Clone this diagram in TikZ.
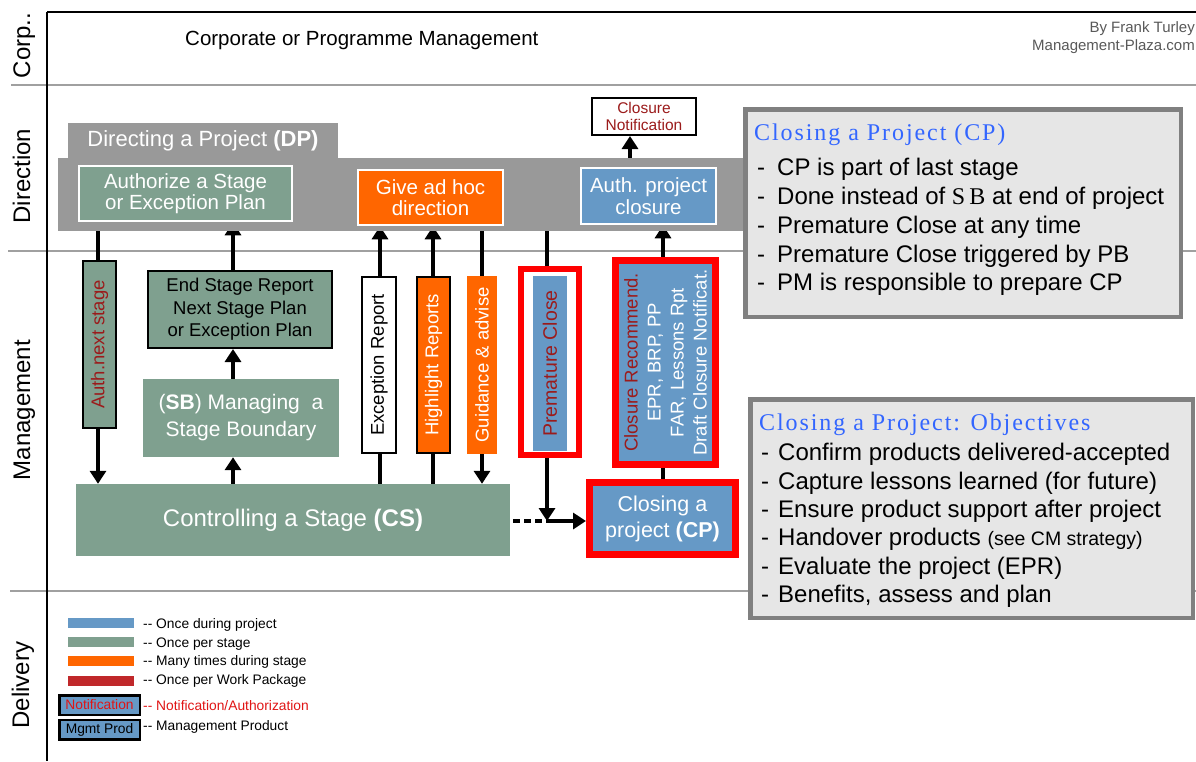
\documentclass[tikz,border=0pt]{standalone}
\usepackage{fontspec}
\setmainfont{Liberation Sans}
\newfontfamily\spserif[LetterSpace=8]{Liberation Serif}
\usetikzlibrary{arrows.meta}
\definecolor{cgreen}{HTML}{7FA08F}
\definecolor{corange}{HTML}{FF6600}
\definecolor{cblue}{HTML}{6699C6}
\definecolor{cband}{HTML}{999999}
\definecolor{dred}{HTML}{9B1B1B}
\definecolor{lred}{HTML}{C0282A}
\definecolor{ntred}{HTML}{E01515}
\definecolor{ttlblue}{HTML}{3366FF}
\definecolor{infofill}{HTML}{E6E6E6}
\definecolor{infoedge}{HTML}{808080}
\definecolor{laneline}{HTML}{A0A0A0}
\definecolor{credit}{HTML}{595959}
\newcommand\myfs[2]{\fontsize{#1}{#2}\selectfont}
\pgfdeclarelayer{back}
\pgfdeclarelayer{mid}
\pgfsetlayers{back,mid,main}
\begin{document}
\begin{tikzpicture}[x=1pt,y=-1pt,
  bx/.style={rectangle, inner sep=0pt, align=center, text=white},
  wborder/.style={draw=white, line width=2.5pt},
  bborder/.style={draw=black, line width=2pt},
  conn/.style={line width=4pt, line cap=butt},
  arr/.style={conn, -{Triangle[length=13pt,width=16pt]}},
  lanelbl/.style={rotate=90, anchor=base, inner sep=0pt, font=\myfs{24}{28}},
  infobox/.style={rectangle, fill=infofill, draw=infoedge, line width=4.5pt, inner sep=0pt},
  infoline/.style={anchor=base west, inner sep=0pt, font=\myfs{24}{28}},
  legtxt/.style={anchor=base west, inner sep=0pt, font=\myfs{13.8}{16}},
  legbar/.style={bx, minimum width=66pt, minimum height=10pt},
  rottxt/.style={rotate=90, font=\myfs{18.5}{22}},
  boxtxt/.style={font=\myfs{20.5}{21.5}}]
\useasboundingbox (0,0) rectangle (1196,761);

% ---------- lanes ----------
\begin{pgfonlayer}{back}
\fill[white] (0,0) rectangle (1196,761);
\draw[laneline, line width=2pt] (11,85) -- (1196,85);
\draw[laneline, line width=2pt] (8,251) -- (1196,251);
\draw[laneline, line width=2pt] (10,591) -- (1196,591);
\draw[line width=2.5pt] (47,12) -- (47,761);
\draw[line width=2.5pt] (47,12) -- (1196,12);
\end{pgfonlayer}

\node[lanelbl] (lcorp) at (30,45.5) {Corp..};
\node[lanelbl] (ldir) at (30,176) {Direction};
\node[lanelbl] (lmgmt) at (30,410) {Management};
\node[lanelbl] (ldel) at (29,685) {Delivery};

\node[anchor=base west, inner sep=0pt, font=\myfs{20.5}{24}] (corp) at (185,45.3) {Corporate or Programme Management};
\node[anchor=east, inner sep=0pt, align=right, text=credit, font=\myfs{15}{18}] (cred) at (1195,38) {By Frank Turley\\Management-Plaza.com};

% ---------- Direction ----------
\node[bx, fill=cband, minimum width=690pt, minimum height=73pt] (dpband) at (403,194.5) {};
\node[bx, fill=cband, minimum width=270pt, minimum height=36pt, font=\myfs{22}{24}] (dptab) at (203,140.5) {Directing a Project \textbf{(DP)}};
\node[bx, fill=cgreen, wborder, minimum width=213pt, minimum height=55pt, boxtxt] (auth) at (185.5,193.5) {Authorize a Stage\\or Exception Plan};
\node[bx, fill=corange, wborder, minimum width=145pt, minimum height=55pt, boxtxt] (adhoc) at (430.5,197.5) {Give ad hoc\\direction};
\node[bx, fill=cblue, wborder, minimum width=135pt, minimum height=56pt, boxtxt] (apc) at (648.5,196) {Auth. project\\closure};
\node[bx, fill=white, bborder, text=dred, minimum width=104pt, minimum height=37pt, font=\myfs{15.5}{17}] (cn) at (644,116.5) {Closure\\Notification};

% ---------- Management ----------
\node[bx, fill=cgreen, bborder, text=dred, rottxt, minimum width=167pt, minimum height=33pt] (ans) at (99.5,344.5) {Auth.next stage};
\node[bx, fill=cgreen, bborder, text=black, minimum width=184pt, minimum height=77pt, font=\myfs{18.5}{22.5}] (esr) at (240,309.5) {End Stage Report\\Next Stage Plan\\or Exception Plan};
\node[bx, fill=cgreen, minimum width=196pt, minimum height=78pt, font=\myfs{21}{27}] (sb) at (241,418) {(\textbf{SB}) Managing\ \ a\\Stage Boundary};
\node[bx, fill=cgreen, minimum width=434pt, minimum height=72pt, font=\myfs{24}{28}] (cs) at (293,520) {Controlling a Stage \textbf{(CS)}};
\node[bx, fill=white, bborder, text=black, rottxt, minimum width=176pt, minimum height=34pt] (exc) at (379,365) {Exception Report};
\node[bx, fill=corange, bborder, rottxt, minimum width=176pt, minimum height=33pt] (hlr) at (433.5,365) {Highlight Reports};
\node[bx, fill=corange, rottxt, minimum width=178pt, minimum height=30pt] (gda) at (482,365) {Guidance \& advise};
\node[bx, fill=white, draw=red, line width=6pt, minimum width=58pt, minimum height=186pt] (pcf) at (550,362) {};
\node[bx, fill=cblue, text=dred, rotate=90, font=\myfs{19.5}{22}, minimum width=175pt, minimum height=34pt] (pc) at (550,363.5) {Premature Close};
\node[bx, fill=cblue, draw=red, line width=7pt, rotate=90, minimum width=204pt, minimum height=100pt, font=\myfs{18.5}{23}] (crec) at (665.5,362.5) {\textcolor{dred}{Closure Recommend.}\\EPR, BRP, PP\\FAR, Lessons Rpt\\Draft Closure Notificat.};
\node[bx, fill=cblue, draw=red, line width=7pt, minimum width=146pt, minimum height=72pt, font=\myfs{21.5}{26}] (cp) at (662.5,518.5) {Closing a\\project \textbf{(CP)}};

% ---------- connectors ----------
\coordinate (xa) at (98,0);
\coordinate (xb) at (233,0);
\coordinate (xc) at (380,0);
\coordinate (xd) at (433,0);
\coordinate (xe) at (482,0);
\coordinate (xf) at (547,0);
\coordinate (xg) at (663,0);
\coordinate (xh) at (630,0);
\coordinate (pcj) at (547,521);
\begin{pgfonlayer}{mid}
\draw[arr] (auth.south -| xa) -- (cs.north -| xa);
\draw[arr] (cs.north -| xb) -- (sb.south -| xb);
\draw[arr] (sb.north -| xb) -- (esr.south -| xb);
\draw[arr] (esr.north -| xb) -- (auth.south -| xb);
\draw[arr] (cs.north -| xc) -- (adhoc.south -| xc);
\draw[arr] (cs.north -| xd) -- (adhoc.south -| xd);
\draw[arr] (adhoc.south -| xe) -- (cs.north -| xe);
\draw[arr] (dpband.south -| xf) -- (pcj);
\draw[conn, dash pattern=on 7pt off 4pt] ([xshift=3pt]cs.east |- pcj) -- (pcj);
\draw[arr] (pcj) -- (cp.west |- pcj);
\draw[arr] (cp.north -| xg) -- (apc.south -| xg);
\draw[arr] (apc.north -| xh) -- (cn.south -| xh);
\end{pgfonlayer}

% ---------- info boxes ----------
\node[infobox, minimum width=435.5pt, minimum height=207.5pt] (info1) at (963,213) {};
\node[anchor=base west, inner sep=0pt, text=ttlblue, font=\spserif\myfs{24}{28}] (t1) at (754,140.4) {Closing a Project (CP)};
\foreach \t [count=\i] in {CP is part of last stage, {Done instead of {\spserif S\,B} at end of project}, Premature Close at any time, Premature Close triggered by PB, PM is responsible to prepare CP}
  \node[infoline] (a\i) at (757,{146.8+28.8*\i}) {\makebox[20pt][l]{-}\t};

\node[infobox, minimum width=442.5pt, minimum height=218.5pt] (info2) at (971.5,508.5) {};
\node[anchor=base west, inner sep=0pt, text=ttlblue, font=\spserif\myfs{24}{28}] (t2) at (759,430) {Closing a Project: Objectives};
\foreach \t [count=\i] in {Confirm products delivered-accepted, Capture lessons learned (for future), Ensure product support after project, {Handover products {\myfs{19.5}{28}(see CM strategy)}}, Evaluate the project (EPR), {Benefits, assess and plan}}
  \node[infoline] (b\i) at (761,{432.2+28.4*\i}) {\makebox[17pt][l]{-}\t};

% ---------- legend ----------
\node[legbar, fill=cblue] (lg1) at (101,623) {};
\node[legbar, fill=cgreen] (lg2) at (101,642) {};
\node[legbar, fill=corange] (lg3) at (101,661) {};
\node[legbar, fill=lred] (lg4) at (101,681) {};
\node[bx, fill=cblue, draw=black, line width=2.5pt, minimum width=80.5pt, minimum height=19.5pt, text=ntred, font=\myfs{13.8}{15}] (lg5) at (99.5,705) {Notification};
\node[bx, fill=cblue, draw=black, line width=2.5pt, minimum width=80.5pt, minimum height=19.5pt, text=black, font=\myfs{13.8}{15}] (lg6) at (99.5,729.5) {Mgmt Prod};
\node[legtxt] (lt1) at (143,628.9) {-\kern0pt- Once during project};
\node[legtxt] (lt2) at (143,647.9) {-\kern0pt- Once per stage};
\node[legtxt] (lt3) at (143,665.9) {-\kern0pt- Many times during stage};
\node[legtxt] (lt4) at (143,684.4) {-\kern0pt- Once per Work Package};
\node[legtxt, text=ntred] (lt5) at (143,710.9) {-\kern0pt- Notification/Authorization};
\node[legtxt] (lt6) at (143,730.9) {-\kern0pt- Management Product};
\end{tikzpicture}
\end{document}
